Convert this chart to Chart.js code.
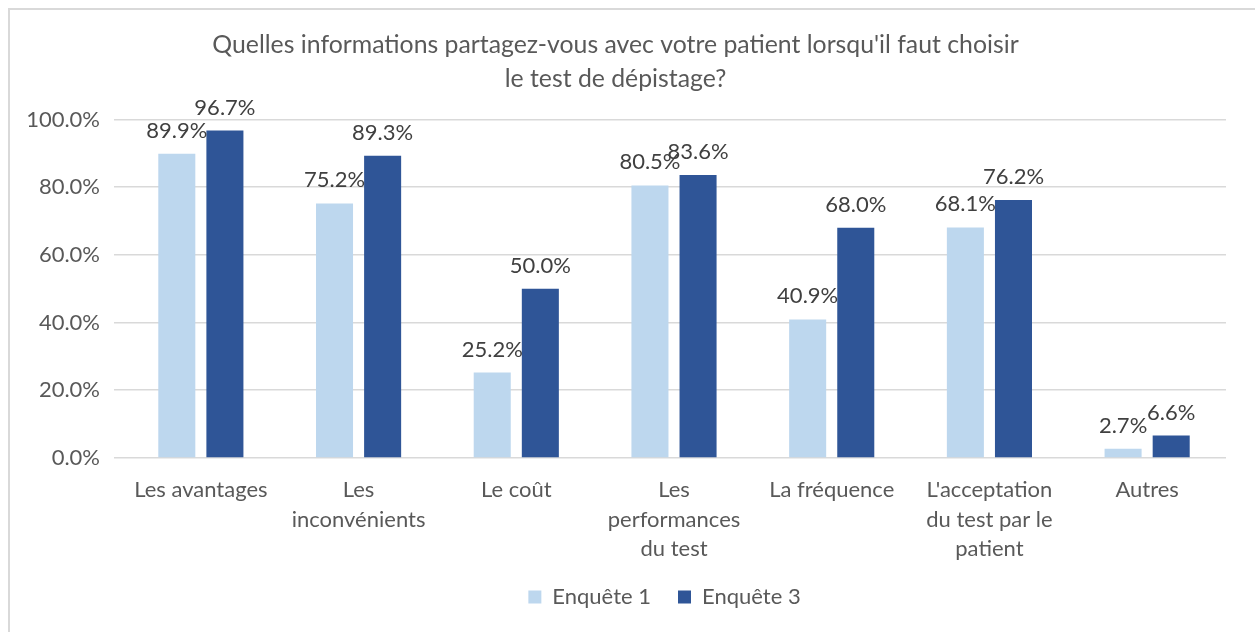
<!DOCTYPE html>
<html>
<head>
<meta charset="utf-8">
<script src="https://cdn.jsdelivr.net/npm/chart.js@4"></script>
<style>
  html, body { margin: 0; padding: 0; background: #fff; }
  #wrap { position: relative; width: 1255px; height: 632px; overflow: hidden; }
  #frame { position: absolute; left: 8px; top: 8px; width: 1300px; height: 700px; border: 2px solid #d9d9d9; box-sizing: border-box; }
  canvas { position: absolute; left: 0; top: 0; }
</style>
</head>
<body>
<div id="wrap">
  <div id="frame"></div>
  <canvas id="chart" width="1255" height="632"></canvas>
</div>
<script>
const categories = [
  "Les avantages",
  ["Les", "inconvénients"],
  "Le coût",
  ["Les", "performances", "du test"],
  "La fréquence",
  ["L'acceptation", "du test par le", "patient"],
  "Autres"
];
const enquete1 = [89.9, 75.2, 25.2, 80.5, 40.9, 68.1, 2.7];
const enquete3 = [96.7, 89.3, 50.0, 83.6, 68.0, 76.2, 6.6];
const yTicks = [0, 20, 40, 60, 80, 100];

const FONT = "Lato, 'Liberation Sans', sans-serif";

const valueLabels = {
  id: "valueLabels",
  afterDatasetsDraw(chart) {
    const ctx = chart.ctx;
    ctx.save();
    ctx.font = "22px " + FONT;
    ctx.fillStyle = "#404040";
    ctx.textAlign = "center";
    ctx.textBaseline = "alphabetic";
    chart.data.datasets.forEach((ds, i) => {
      chart.getDatasetMeta(i).data.forEach((bar, j) => {
        ctx.fillText(ds.data[j].toFixed(1) + "%", bar.x, bar.y - 16);
      });
    });
    ctx.restore();
  }
};

// the legend sits a little right of centre and higher in the original
const legendShift = {
  id: "legendShift",
  afterLayout(chart) {
    const lg = chart.legend;
    lg.left += 49;
    lg.right += 49;
    lg.top -= 14;
    lg.bottom -= 14;
  }
};

new Chart(document.getElementById("chart").getContext("2d"), {
  type: "bar",
  data: {
    labels: categories,
    datasets: [{
      label: "Enquête 1",
      data: enquete1,
      backgroundColor: "#bdd7ee",
      categoryPercentage: 0.61,
      barPercentage: 0.77
    }, {
      label: "Enquête 3",
      data: enquete3,
      backgroundColor: "#2f5597",
      categoryPercentage: 0.61,
      barPercentage: 0.77
    }]
  },
  options: {
    responsive: false,
    animation: false,
    layout: {
      padding: { left: 5, right: 29, top: 14, bottom: 0 }
    },
    plugins: {
      title: {
        display: true,
        text: ["Quelles informations partagez-vous avec votre patient lorsqu'il faut choisir", "le test de dépistage?"],
        color: "#595959",
        font: { family: FONT, size: 24.8, weight: "normal", lineHeight: 1.36 },
        padding: { top: 14, bottom: 24 }
      },
      legend: {
        position: "bottom",
        labels: {
          color: "#595959",
          font: { family: FONT, size: 22 },
          boxWidth: 13,
          boxHeight: 13,
          padding: 27
        }
      },
      tooltip: { enabled: false }
    },
    scales: {
      x: {
        grid: { display: false },
        border: { display: false },
        ticks: {
          color: "#595959",
          font: { family: FONT, size: 22, lineHeight: 1.32 },
          maxRotation: 0,
          autoSkip: false,
          padding: 10
        }
      },
      y: {
        min: 0,
        max: 100,
        afterBuildTicks(scale) {
          scale.ticks = yTicks.map(v => ({ value: v }));
        },
        afterFit(scale) {
          scale.width = 117;
        },
        grid: { color: "#d9d9d9", lineWidth: 1.5 },
        border: { display: false },
        ticks: {
          color: "#595959",
          font: { family: FONT, size: 22 },
          padding: 14,
          callback: v => v.toFixed(1) + "%"
        }
      }
    }
  },
  plugins: [valueLabels, legendShift]
});
</script>
</body>
</html>
